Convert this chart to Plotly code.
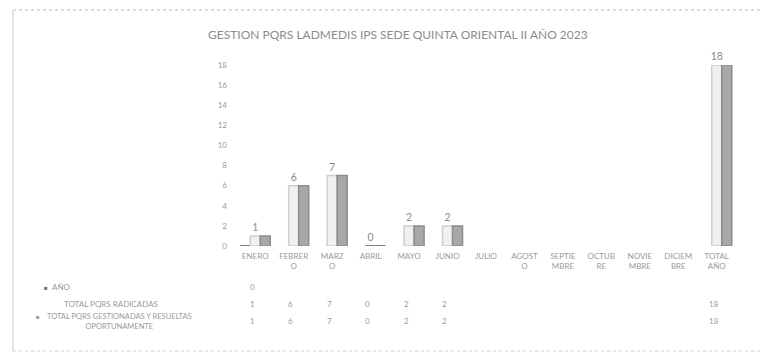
import plotly.graph_objects as go

# ---- data -----------------------------------------------------------------
categories = ["ENERO", "FEBRERO", "MARZO", "ABRIL", "MAYO", "JUNIO", "JULIO",
              "AGOSTO", "SEPTIEMBRE", "OCTUBRE", "NOVIEMBRE", "DICIEMBRE",
              "TOTAL AÑO"]
tick_labels = ["ENERO", "FEBRER<br>O", "MARZ<br>O", "ABRIL", "MAYO", "JUNIO",
               "JULIO", "AGOST<br>O", "SEPTIE<br>MBRE", "OCTUB<br>RE",
               "NOVIE<br>MBRE", "DICIEM<br>BRE", "TOTAL<br>AÑO"]
anio = [0, None, None, None, None, None, None, None, None, None, None, None, None]
radicadas = [1, 6, 7, 0, 2, 2, None, None, None, None, None, None, 18]
gestionadas = [1, 6, 7, 0, 2, 2, None, None, None, None, None, None, 18]
row_names = ["AÑO", "TOTAL PQRS RADICADAS",
             "TOTAL PQRS GESTIONADAS Y RESUELTAS<br>OPORTUNAMENTE"]
y_ticks = [0, 2, 4, 6, 8, 10, 12, 14, 16, 18]
title_text = "GESTION PQRS LADMEDIS IPS SEDE QUINTA ORIENTAL II AÑO 2023"

# ---- geometry ---------------------------------------------------------------
W, H = 761, 358
L, R, T, B = 236, 25, 65, 112
PW, PH = W - L - R, H - T - B
FONT = "Lato"
TXT = "#9a9a9a"


def px_x(px):
    return (px - L) / PW


def px_y(py):
    return (H - B - py) / PH


def zero_line(vals, base, dark):
    return [dark if v == 0 else base for v in vals]


fig = go.Figure()
fig.add_trace(go.Bar(
    x=categories, y=anio, name=row_names[0],
    marker=dict(color="#5b6074", line=dict(color="#4a4f63", width=1.5)),
    cliponaxis=False,
))
fig.add_trace(go.Bar(
    x=categories, y=radicadas, name=row_names[1],
    marker=dict(color="#f0f0f0",
                line=dict(color=zero_line(radicadas, "#cfcfcf", "#4a4f63"),
                          width=1.5)),
    texttemplate="%{y}", textposition="outside",
    textfont=dict(family=FONT, size=10.5, color="#8a8a8a"),
    constraintext="none", cliponaxis=False,
))
fig.add_trace(go.Bar(
    x=categories, y=gestionadas, name=row_names[2],
    marker=dict(color="#a8a8a8",
                line=dict(color=zero_line(gestionadas, "#8c8c8c", "#4a4f63"),
                          width=1.5)),
    cliponaxis=False,
))

annotations = []
# data table beneath the axis
table_rows = [anio, radicadas, gestionadas]
row_y = [287, 304, 321]
for vals, py in zip(table_rows, row_y):
    for cat, v in zip(categories, vals):
        if v is None:
            continue
        annotations.append(dict(
            x=cat, xref="x", y=0, yref="paper", yshift=-(py - (H - B)),
            xshift=-3, text=str(v), showarrow=False, xanchor="center",
            yanchor="middle", font=dict(family=FONT, size=8, color=TXT)))

# row headers with legend keys
row_label_x = [61, 111, 119]
row_font = [8, 8, 7.5]
key_x = [46, None, 38]
key_col = ["#6a6f80", None, "#9a9a9a"]
for name, lx, fs, kx, kc, py in zip(row_names, row_label_x, row_font,
                                    key_x, key_col, row_y):
    two_lines = "<br>" in name
    annotations.append(dict(
        x=0, xref="paper", xshift=lx - L, y=0, yref="paper",
        yshift=-(py - (H - B)),
        text=name, showarrow=False, xanchor="center", yanchor="middle",
        align="center", font=dict(family=FONT, size=fs, color=TXT)))
    if kx is not None:
        annotations.append(dict(
            x=0, xref="paper", xshift=kx - L, y=0, yref="paper",
            yshift=-(py - (H - B)) + (5 if two_lines else 0),
            text="■", showarrow=False, xanchor="center", yanchor="middle",
            font=dict(family=FONT, size=6, color=kc)))

# chart title
annotations.append(dict(
    x=px_x(398), xref="paper", y=px_y(34), yref="paper", text=title_text,
    showarrow=False, xanchor="center", yanchor="middle",
    font=dict(family=FONT, size=12, color="#8c8c8c")))

# chart-area border: dotted top/bottom, faint left edge
shapes = [
    dict(type="line", xref="paper", yref="paper", x0=px_x(13), x1=px_x(760),
         y0=px_y(10), y1=px_y(10), line=dict(color="#b5b8c4", width=1, dash="dot")),
    dict(type="line", xref="paper", yref="paper", x0=px_x(13), x1=px_x(760),
         y0=px_y(351), y1=px_y(351), line=dict(color="#d0d0d0", width=1, dash="dot")),
    dict(type="line", xref="paper", yref="paper", x0=px_x(13), x1=px_x(13),
         y0=px_y(10), y1=px_y(351), line=dict(color="#c8c8c8", width=1)),
]

fig.update_layout(
    width=W, height=H,
    margin=dict(l=L, r=R, t=T, b=B, pad=0),
    paper_bgcolor="white", plot_bgcolor="white",
    barmode="group", bargap=0.22, bargroupgap=0,
    showlegend=False,
    font=dict(family=FONT, color=TXT),
    annotations=annotations, shapes=shapes,
    xaxis=dict(type="category", tickmode="array", tickvals=categories,
               ticktext=tick_labels, showgrid=False, showline=False,
               zeroline=False, ticks="", ticklabelstandoff=4,
               tickfont=dict(family=FONT, size=8, color=TXT)),
    yaxis=dict(range=[0, 18], tickmode="array", tickvals=y_ticks,
               showgrid=False, showline=False, zeroline=False, ticks="",
               ticklabelstandoff=8,
               tickfont=dict(family=FONT, size=8, color=TXT)),
)

fig.write_html("out.html")
